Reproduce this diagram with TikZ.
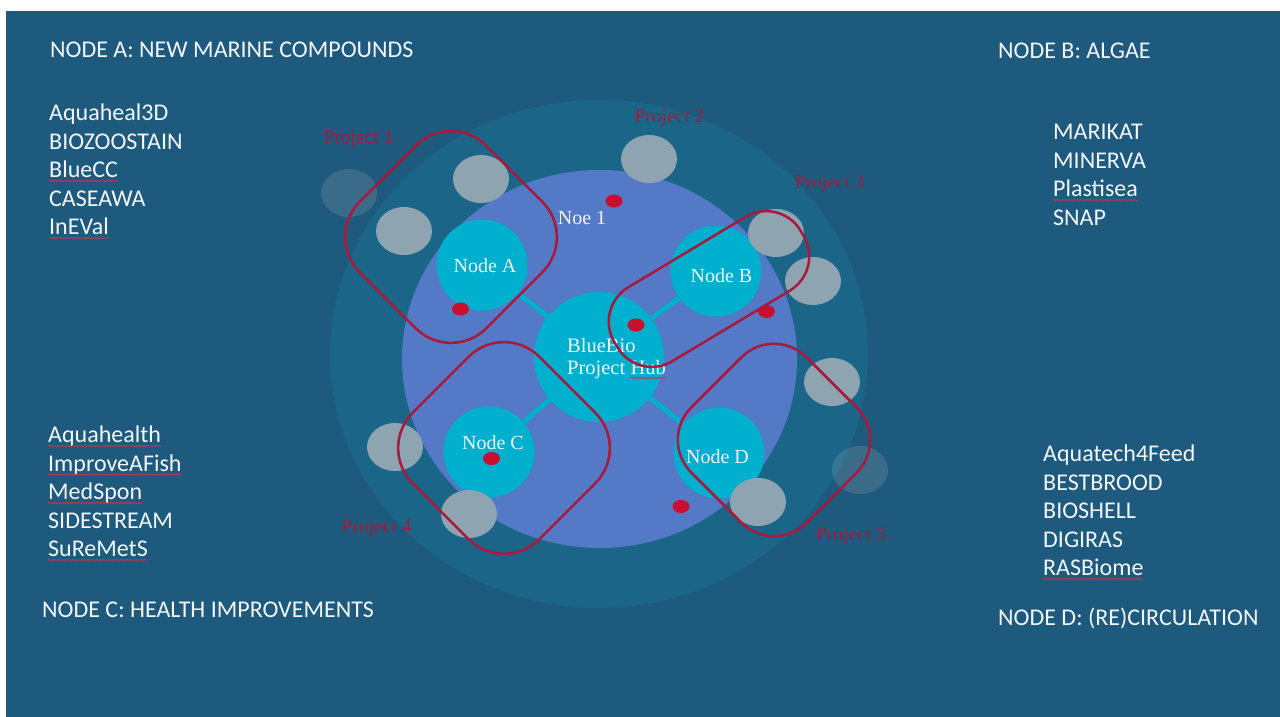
\documentclass[tikz,border=0pt]{standalone}
\usepackage{fontspec}
\setmainfont{Liberation Serif}
\newfontfamily\calib{Carlito}
\usetikzlibrary{decorations.pathmorphing}
\definecolor{bg}{HTML}{1E5A7E}
\definecolor{ring}{HTML}{1B6688}
\definecolor{innerc}{HTML}{5479C7}
\definecolor{cyanc}{HTML}{00B0CE}
\definecolor{greyc}{HTML}{8EA4B0}
\definecolor{dotc}{HTML}{C8102E}
\definecolor{projc}{HTML}{A8193C}
\definecolor{txt}{HTML}{F2F6FA}
\definecolor{squigc}{HTML}{D0314A}
\begin{document}
\begin{tikzpicture}[x=1pt,y=-1pt,
 sidetxt/.style={anchor=base west, inner sep=0, text=txt, font=\calib\fontsize{24}{28}\selectfont},
 lbl/.style={anchor=base, inner sep=0, text=txt, font=\fontsize{20}{23}\selectfont},
 lblw/.style={anchor=base west, inner sep=0, text=txt, font=\fontsize{20.5}{23}\selectfont},
 projlbl/.style={anchor=base, inner sep=0, text=projc, font=\fontsize{19.5}{23}\selectfont},
 nodecirc/.style={circle, fill=cyanc, inner sep=0, minimum size=91pt},
 conn/.style={cyanc, line width=5pt},
 pebble/.style={fill=greyc},
 faint/.style={fill=greyc, fill opacity=0.25},
 dot/.style={fill=dotc},
 projbox/.style={draw=projc, line width=2.5pt, rectangle, inner sep=0},
 squig/.style={draw=squigc, line width=0.7pt, decorate, decoration={snake, amplitude=0.8pt, segment length=3pt}}
]
\useasboundingbox (0,0) rectangle (1280,717);
\fill[white] (0,0) rectangle (1280,717);
\fill[bg] (6,11) rectangle (1280,717);
% rings
\fill[ring] (599,354) ellipse [x radius=269, y radius=254];
\fill[innerc] (599.5,359) ellipse [x radius=197.5, y radius=189];
% hub and nodes
\node[nodecirc, minimum size=130pt] (hub) at (599,357) {};
\node[nodecirc] (na) at (482,265) {};
\node[nodecirc] (nb) at (716,271) {};
\node[nodecirc] (nc) at (489,452) {};
\node[nodecirc] (nd) at (719,453) {};
\draw[conn] (hub) -- (na);
\draw[conn] (hub) -- (nb);
\draw[conn] (hub) -- (nc);
\draw[conn] (hub) -- (nd);
% pebbles
\fill[faint] (349,193) ellipse [x radius=28, y radius=24];
\fill[pebble] (481,179) ellipse [x radius=28, y radius=24];
\fill[pebble] (404,231) ellipse [x radius=28, y radius=24];
\fill[pebble] (649,159) ellipse [x radius=28, y radius=24];
\fill[pebble] (776,233) ellipse [x radius=28, y radius=24];
\fill[pebble] (813,281) ellipse [x radius=28, y radius=24];
\fill[pebble] (832,382) ellipse [x radius=28, y radius=24];
\fill[faint] (860,470) ellipse [x radius=28, y radius=24];
\fill[pebble] (758,502) ellipse [x radius=28, y radius=24];
\fill[pebble] (469,514) ellipse [x radius=28, y radius=24];
\fill[pebble] (395,447) ellipse [x radius=28, y radius=24];
% red dots
\fill[dot] (614,201) ellipse [x radius=8.5, y radius=6.5];
\fill[dot] (460.5,309) ellipse [x radius=8.5, y radius=6.5];
\fill[dot] (636,325) ellipse [x radius=8.5, y radius=6.5];
\fill[dot] (766.5,311.5) ellipse [x radius=8.5, y radius=6.5];
\fill[dot] (491.5,458.5) ellipse [x radius=8.5, y radius=6.5];
\fill[dot] (681,506.5) ellipse [x radius=8.5, y radius=6.5];
% labels in the diagram
\node[lbl] (la) at (485,272.5) {Node A};
\node[lbl] (lb) at (721.5,282.5) {Node B};
\node[lbl] (lc) at (493,449.5) {Node C};
\node[lbl] (ld) at (717.5,463.5) {Node D};
\node[lbl] (noe) at (582,224.5) {Noe 1};
\node[lblw] (hub1) at (567,352) {BlueBio};
\node[lblw] (hub2) at (567,374.5) {Project};
\node[lblw] (hub3) at ([xshift=5pt]hub2.base east) {Hub};
\draw[squig] ([yshift=-3.5pt]hub3.base west) -- ([yshift=-3.5pt]hub3.base east);
% project outlines
\node[projbox, rounded corners=50pt, minimum width=179pt, minimum height=179pt, rotate=45] (p1) at (451,237) {};
\node[projbox, rounded corners=40pt, minimum width=217pt, minimum height=86pt, rotate=31] (p3) at (709,289) {};
\node[projbox, rounded corners=50pt, minimum width=179pt, minimum height=179pt, rotate=45] (p4) at (504,448) {};
\node[projbox, rounded corners=46pt, minimum width=163pt, minimum height=163pt, rotate=45] (p5) at (774,440) {};
\node[projlbl] (pl1) at (358.5,143.5) {Project 1};
\node[projlbl] (pl2) at (669.5,122.5) {Project 2};
\node[projlbl] (pl3) at (829.5,188) {Project 3};
\node[projlbl] (pl4) at (376.5,532) {Project 4};
\node[projlbl] (pl5) at (851,540) {Project 5};
% side texts
\node[sidetxt] (ta) at (50,57.5) {NODE A: NEW MARINE COMPOUNDS};
\node[sidetxt] (a1) at (49,120.5) {Aquaheal3D};
\node[sidetxt] (a2) at (49,149) {BIOZOOSTAIN};
\node[sidetxt] (a3) at (49,177.5) {BlueCC};
\node[sidetxt] (a4) at (49,206) {CASEAWA};
\node[sidetxt] (a5) at (49,234.5) {InEVal};
\node[sidetxt] (tb) at (998,58.5) {NODE B: ALGAE};
\node[sidetxt] (b1) at (1053,139.5) {MARIKAT};
\node[sidetxt] (b2) at (1053,168) {MINERVA};
\node[sidetxt] (b3) at (1053,196.5) {Plastisea};
\node[sidetxt] (b4) at (1053,225) {SNAP};
\node[sidetxt] (c1) at (48,442.5) {Aquahealth};
\node[sidetxt] (c2) at (48,471) {ImproveAFish};
\node[sidetxt] (c3) at (48,499.5) {MedSpon};
\node[sidetxt] (c4) at (48,528) {SIDESTREAM};
\node[sidetxt] (c5) at (48,556.5) {SuReMetS};
\node[sidetxt] (tc) at (42,617.5) {NODE C: HEALTH IMPROVEMENTS};
\node[sidetxt] (d1) at (1043,461.5) {Aquatech4Feed};
\node[sidetxt] (d2) at (1043,490) {BESTBROOD};
\node[sidetxt] (d3) at (1043,518.5) {BIOSHELL};
\node[sidetxt] (d4) at (1043,547) {DIGIRAS};
\node[sidetxt] (d5) at (1043,575.5) {RASBiome};
\node[sidetxt] (td) at (998,625.5) {NODE D: (RE)CIRCULATION};
% spelling squiggles
\foreach \w in {a3,a5,b3,c1,c2,c3,c5,d5}{
  \draw[squig] ([yshift=-3.5pt]\w.base west) -- ([yshift=-3.5pt]\w.base east);
}
\end{tikzpicture}
\end{document}
